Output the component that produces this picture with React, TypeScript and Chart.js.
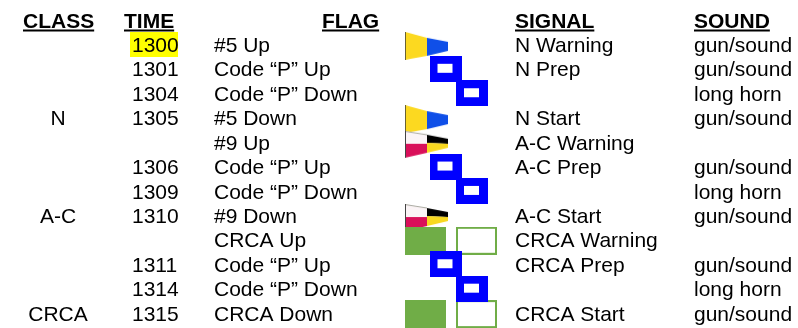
import React, { useEffect, useRef } from "react";
import { Chart, registerables } from "chart.js";

Chart.register(...registerables);

const headers = ["CLASS", "TIME", "FLAG", "SIGNAL", "SOUND"];
const classes = ["", "", "", "N", "", "", "", "A-C", "", "", "", "CRCA"];
const times = ["1300", "1301", "1304", "1305", "", "1306", "1309", "1310", "", "1311", "1314", "1315"];
const flags = [
  "#5 Up", "Code “P” Up", "Code “P” Down", "#5 Down", "#9 Up", "Code “P” Up",
  "Code “P” Down", "#9 Down", "CRCA Up", "Code “P” Up", "Code “P” Down", "CRCA Down",
];
const signals = [
  "N Warning", "N Prep", "", "N Start", "A-C Warning", "A-C Prep",
  "", "A-C Start", "CRCA Warning", "CRCA Prep", "", "CRCA Start",
];
const sounds = [
  "gun/sound", "gun/sound", "long horn", "gun/sound", "", "gun/sound",
  "long horn", "gun/sound", "", "gun/sound", "long horn", "gun/sound",
];
const pennant5Rows = [1, 4];
const pennant9Rows = [5, 8];
const codePUpRows = [2, 6, 10];
const codePDownRows = [3, 7, 11];
const crcaRows = [9, 12];
const highlightRows = [1];

const FONT = '"Liberation Sans", Arial, sans-serif';
const SIZE = 21;
const BASE = 27.5;
const STEP = 24.43;
const FLAG_SHIFT = 0.27;
const HIGHLIGHT_SHIFT = 0.3;

function sprite(w: number, h: number, draw: (c: CanvasRenderingContext2D) => void) {
  const el = document.createElement("canvas");
  el.width = w;
  el.height = h;
  draw(el.getContext("2d") as CanvasRenderingContext2D);
  return el;
}

function poly(c: CanvasRenderingContext2D, color: string, pts: number[][]) {
  c.fillStyle = color;
  c.beginPath();
  pts.forEach(([x, y], i) => (i ? c.lineTo(x, y) : c.moveTo(x, y)));
  c.closePath();
  c.fill();
}

const makePennant5 = () =>
  sprite(44, 28, (c) => {
    poly(c, "#fcd920", [[0, 0], [22, 6], [22, 24], [0, 28]]);
    poly(c, "#0f4fe8", [[22, 6], [43, 10], [43, 19], [22, 24]]);
    c.fillStyle = "#6a6232";
    c.fillRect(0, 0, 1, 28);
  });

const makePennant9 = () =>
  sprite(44, 28, (c) => {
    poly(c, "#fbf4f6", [[0, 0], [22, 4], [22, 13], [0, 13]]);
    poly(c, "#d9105a", [[0, 13], [22, 13], [22, 22], [0, 27]]);
    poly(c, "#000000", [[22, 4], [43, 8], [43, 13], [22, 12]]);
    poly(c, "#f8d820", [[22, 12], [43, 13], [43, 17], [22, 22]]);
    c.strokeStyle = "#a9a9a0";
    c.beginPath();
    c.moveTo(0, 0.5);
    c.lineTo(22, 4);
    c.stroke();
    c.fillStyle = "#444";
    c.fillRect(0, 0, 1, 27);
  });

const makeCodeP = () =>
  sprite(32, 26, (c) => {
    c.fillStyle = "#0000ff";
    c.fillRect(0, 0, 32, 26);
    c.fillStyle = "#ffffff";
    c.fillRect(8, 8, 15, 9);
  });

const makeSolid = () =>
  sprite(41, 28, (c) => {
    c.fillStyle = "#70ad47";
    c.fillRect(0, 0, 41, 28);
  });

const makeOutline = () =>
  sprite(41, 28, (c) => {
    c.fillStyle = "#70ad47";
    c.fillRect(0, 0, 41, 28);
    c.fillStyle = "#ffffff";
    c.fillRect(2, 2, 37, 24);
  });

const makeHighlight = () =>
  sprite(48, 25, (c) => {
    c.fillStyle = "#ffff00";
    c.fillRect(0, 0, 48, 25);
  });

const flagSet = (x: number, rows: number[], img: HTMLCanvasElement, order: number, shift = FLAG_SHIFT) => ({
  type: "scatter" as const,
  data: rows.map((r) => ({ x, y: r - shift })),
  pointStyle: img,
  pointRadius: 10,
  order,
  showLine: false,
  clip: false,
});

const textPlugin = {
  id: "tableText",
  afterDatasetsDraw(chart: any) {
    const { ctx, scales } = chart;
    const X = scales.x;
    const Y = scales.y;
    const put = (s: string, x: number, row: number, align: CanvasTextAlign) => {
      if (!s) return;
      ctx.textAlign = align;
      ctx.fillText(s, X.getPixelForValue(x), Y.getPixelForValue(row));
    };
    ctx.save();
    ctx.fillStyle = "#000";
    ctx.textBaseline = "alphabetic";
    ctx.font = `${SIZE}px ${FONT}`;
    classes.forEach((s, i) => put(s, 58, i + 1, "center"));
    times.forEach((s, i) => put(s, 132, i + 1, "left"));
    flags.forEach((s, i) => put(s, 214, i + 1, "left"));
    signals.forEach((s, i) => put(s, 515, i + 1, "left"));
    sounds.forEach((s, i) => put(s, 694, i + 1, "left"));

    ctx.font = `bold ${SIZE}px ${FONT}`;
    const headerX = [23, 124, 322, 515, 694];
    headers.forEach((s, i) => {
      put(s, headerX[i], 0, "left");
      const w = ctx.measureText(s).width;
      ctx.fillRect(X.getPixelForValue(headerX[i]), Y.getPixelForValue(0) + 2, w, 2);
    });
    ctx.restore();
  },
};

export default function App() {
  const ref = useRef<HTMLCanvasElement>(null);
  useEffect(() => {
    document.body.style.margin = "0";
    const chart = new Chart(ref.current as HTMLCanvasElement, {
      type: "scatter",
      data: {
        datasets: [
          flagSet(154, highlightRows, makeHighlight(), 10, HIGHLIGHT_SHIFT),
          flagSet(427, pennant5Rows, makePennant5(), 6, 0.25),
          flagSet(427, pennant9Rows, makePennant9(), 5, 0.2),
          flagSet(425.5, crcaRows, makeSolid(), 4),
          flagSet(476.5, crcaRows, makeOutline(), 3),
          flagSet(445.5, codePUpRows, makeCodeP(), 2, 0.31),
          flagSet(472, codePDownRows, makeCodeP(), 1, 0.31),
        ],
      },
      options: {
        animation: false,
        responsive: false,
        events: [],
        layout: { padding: 0, autoPadding: false },
        plugins: { legend: { display: false }, tooltip: { enabled: false } },
        scales: {
          x: { type: "linear", display: false, min: 0, max: 798 },
          y: {
            type: "linear",
            display: false,
            reverse: true,
            min: -BASE / STEP,
            max: (328 - BASE) / STEP,
          },
        },
      },
      plugins: [textPlugin],
    });
    return () => chart.destroy();
  }, []);
  return <canvas ref={ref} width={798} height={328} style={{ display: "block" }} />;
}
